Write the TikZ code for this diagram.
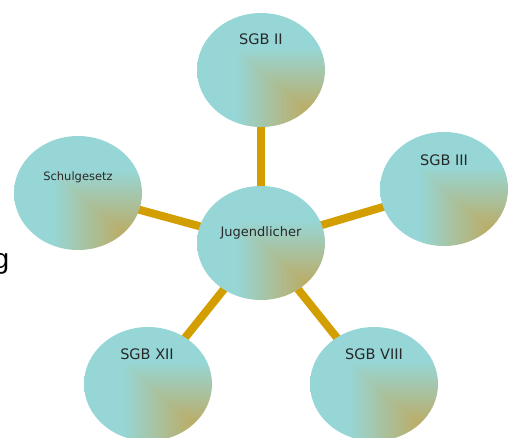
\documentclass[tikz,border=0pt]{standalone}
\usepackage{fontspec}
\setmainfont{DejaVu Sans}
\newfontfamily\argfont{Liberation Sans}
\usetikzlibrary{shapes.geometric,backgrounds}
\pgfdeclarefunctionalshading{cornershade}{\pgfpoint{-50bp}{-50bp}}{\pgfpoint{50bp}{50bp}}{}{
50 add exch 50 exch sub
2 copy lt {exch} if pop
100 div 0.2 sub 0.4 div
dup 0 lt {pop 0} if dup 1 gt {pop 1} if
dup dup
-0.21 mul 0.80 add 3 1 roll
0.24 mul 0.60 add exch
0.64 mul 0.20 add
}
\definecolor{linkgold}{RGB}{210,158,0}
\definecolor{labtext}{RGB}{40,40,40}
\tikzset{
  bubble/.style={ellipse, minimum width=128pt, minimum height=114pt, inner sep=0pt, shading=cornershade},
  link/.style={draw=linkgold, line width=8pt},
  lab/.style={inner sep=0pt, anchor=base, text=labtext},
  sgbfont/.style={font=\fontsize{14.5}{17}\selectfont}
}
\begin{document}
\begin{tikzpicture}[x=1pt,y=-1pt]
\useasboundingbox (0,0) rectangle (510,437);
\node[bubble] (J) at (261,243) {};
\node[bubble] (S2) at (261,70) {};
\node[bubble] (S3) at (444,189) {};
\node[bubble] (S8) at (374,384) {};
\node[bubble] (S12) at (148,384) {};
\node[bubble] (SG) at (78,193) {};
\begin{scope}[on background layer]
\draw[link] (J.center) -- (S2.center);
\draw[link] (J.center) -- (S3.center);
\draw[link] (J.center) -- (S8.center);
\draw[link] (J.center) -- (S12.center);
\draw[link] (J.center) -- (SG.center);
\end{scope}
\node[lab,sgbfont] (tS2) at (261,44) {SGB II};
\node[lab,sgbfont] (tS3) at (444,165) {SGB III};
\node[lab,sgbfont] (tS12) at (147,359) {SGB XII};
\node[lab,sgbfont] (tS8) at (374,359) {SGB VIII};
\node[lab,font=\fontsize{13}{15}\selectfont] (tJ) at (261,236.5) {Jugendlicher};
\node[lab,font=\fontsize{11.5}{13}\selectfont] (tSG) at (78,180) {Schulgesetz};
\node[inner sep=0pt, anchor=base west, font=\argfont\fontsize{28}{30}\selectfont] (tg) at (-6.5,268) {g};
\end{tikzpicture}
\end{document}
